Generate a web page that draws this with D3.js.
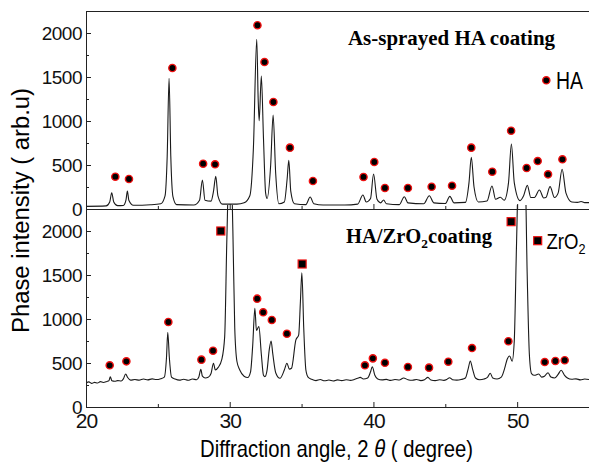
<!DOCTYPE html>
<html>
<head>
<meta charset="utf-8">
<script src="https://cdn.jsdelivr.net/npm/d3@7"></script>
<style>
  html, body { margin: 0; padding: 0; background: #fff; }
  svg { display: block; }
  .tick text { font-family: "Liberation Sans", Arial, sans-serif; fill: #111; }
  .axis path, .axis line { stroke: #222; }
</style>
</head>
<body>
<svg id="chart"></svg>
<script>
// ---- data ----
const xTicks = [20, 30, 40, 50];
const xMinorTicks = [25, 35, 45];
const yTicks = [0, 500, 1000, 1500, 2000];
const yMinorTicks = [250, 750, 1250, 1750];

// as-sprayed HA coating pattern: [2theta, intensity]
const asSprayedPattern = [
  [20.0, 30], [21.4, 35], [21.65, 80], [21.79, 185], [21.93, 80], [22.2, 38],
  [22.6, 40], [22.78, 100], [22.88, 205], [22.98, 100], [23.3, 42], [24.5, 48],
  [25.2, 60], [25.5, 150], [25.65, 600], [25.78, 1485], [25.9, 600], [26.05, 140],
  [26.3, 50], [27.5, 45], [27.9, 100], [28.1, 330], [28.28, 100], [28.7, 90],
  [28.87, 200], [29.03, 372], [29.18, 150], [29.5, 55], [30.5, 55], [31.0, 70],
  [31.4, 150], [31.65, 700], [31.88, 1928], [31.98, 1250], [32.05, 1003], [32.2, 1511],
  [32.35, 800], [32.5, 180], [32.6, 120], [32.85, 500], [33.02, 1068], [33.2, 400],
  [33.42, 60], [33.8, 80], [34.0, 350], [34.11, 553], [34.25, 200], [34.5, 60],
  [35.3, 50], [35.6, 136], [35.85, 60], [36.5, 45], [38.0, 45], [38.9, 55],
  [39.27, 159], [39.5, 80], [39.8, 120], [40.01, 398], [40.25, 110], [40.5, 70],
  [40.71, 102], [40.9, 60], [41.8, 50], [42.15, 140], [42.4, 70], [43.5, 60],
  [43.89, 151], [44.2, 70], [45.0, 62], [45.32, 144], [45.6, 70], [46.4, 75],
  [46.65, 300], [46.81, 587], [47.0, 250], [47.3, 80], [47.9, 90], [48.25, 261],
  [48.5, 110], [48.83, 133], [49.1, 100], [49.4, 300], [49.6, 739], [49.8, 300],
  [50.2, 95], [50.45, 150], [50.71, 269], [50.95, 130], [51.2, 130], [51.55, 216],
  [51.85, 125], [52.0, 130], [52.29, 254], [52.6, 130], [52.85, 180], [53.13, 451],
  [53.4, 180], [53.8, 80], [54.2, 75], [54.45, 85], [54.7, 72], [55.0, 72]
];

// HA/ZrO2 coating pattern: [2theta, intensity]
const haZrPattern = [
  [20.0, 270], [20.2, 285], [20.4, 268], [20.6, 280], [20.8, 272], [21.0, 288],
  [21.2, 278], [21.45, 290], [21.6, 300], [21.69, 344], [21.8, 298], [22.0, 292],
  [22.2, 300], [22.45, 296], [22.6, 320], [22.76, 375], [22.9, 335], [23.1, 305],
  [23.4, 312], [23.7, 305], [24.0, 318], [24.3, 308], [24.6, 320], [24.9, 312],
  [25.2, 322], [25.45, 340], [25.6, 560], [25.69, 849], [25.8, 560], [25.95, 340],
  [26.2, 318], [26.5, 305], [26.8, 316], [27.1, 304], [27.4, 318], [27.7, 310],
  [27.85, 340], [27.99, 428], [28.1, 350], [28.3, 330], [28.5, 337], [28.7, 380],
  [28.87, 497], [29.0, 420], [29.2, 450], [29.45, 540], [29.65, 800], [29.8, 1900],
  [29.95, 2700], [30.1, 2700], [30.22, 2000], [30.35, 900], [30.5, 520], [30.7, 420],
  [31.0, 350], [31.25, 335], [31.45, 400], [31.6, 700], [31.75, 1121], [31.86, 870],
  [32.03, 913], [32.2, 600], [32.35, 360], [32.45, 345], [32.6, 420], [32.75, 650],
  [32.88, 750], [33.0, 600], [33.2, 390], [33.5, 326], [33.8, 420], [33.98, 497],
  [34.15, 430], [34.3, 440], [34.6, 760], [34.8, 820], [34.92, 1200], [35.02, 1526],
  [35.15, 900], [35.3, 420], [35.45, 340], [35.7, 315], [36.0, 300], [36.3, 312],
  [36.6, 298], [36.9, 306], [37.2, 296], [37.5, 308], [37.8, 300], [38.1, 310],
  [38.4, 302], [38.7, 315], [38.95, 330], [39.08, 337], [39.3, 318], [39.6, 330],
  [39.8, 400], [39.92, 458], [40.1, 360], [40.3, 318], [40.6, 308], [40.9, 314],
  [41.2, 302], [41.5, 312], [41.8, 306], [42.1, 330], [42.4, 310], [42.7, 304],
  [43.0, 312], [43.3, 300], [43.55, 310], [43.79, 337], [44.0, 306], [44.3, 300],
  [44.6, 310], [44.9, 302], [45.1, 312], [45.3, 333], [45.5, 310], [45.8, 305],
  [46.1, 312], [46.4, 330], [46.6, 440], [46.74, 523], [46.9, 430], [47.1, 330],
  [47.4, 310], [47.7, 318], [47.95, 340], [48.13, 383], [48.3, 330], [48.6, 318],
  [48.9, 340], [49.15, 450], [49.3, 540], [49.48, 580], [49.65, 520], [49.8, 750],
  [49.95, 1800], [50.1, 2700], [50.35, 2800], [50.55, 2700], [50.7, 1500], [50.85, 600],
  [51.0, 380], [51.2, 360], [51.5, 375], [51.7, 340], [51.9, 350], [52.15, 390],
  [52.35, 340], [52.6, 330], [52.85, 370], [53.06, 417], [53.3, 360], [53.5, 330],
  [53.8, 315], [54.1, 320], [54.4, 308], [54.7, 318], [55.0, 312]
];

// peak markers: [2theta, intensity]
const asSprayedHA = [
  [22.04, 367], [22.99, 341], [26.01, 1602], [28.15, 515], [28.98, 508], [31.93, 2088],
  [32.42, 1670], [33.04, 1216], [34.19, 697], [35.79, 318], [39.31, 364], [40.06, 534],
  [40.80, 239], [42.40, 239], [44.05, 253], [45.47, 265], [46.81, 697], [48.27, 424],
  [49.58, 890], [50.66, 466], [51.43, 545], [52.15, 394], [53.15, 565]
];
const haZrHA = [
  [21.65, 474], [22.81, 519], [25.73, 966], [28.03, 538], [28.84, 640], [31.91, 1231],
  [32.33, 1076], [32.93, 989], [33.98, 833], [39.41, 474], [39.96, 553], [40.80, 503],
  [42.40, 455], [43.87, 447], [45.21, 515], [46.86, 670], [49.39, 747], [51.92, 511],
  [52.66, 523], [53.31, 531]
];
const haZrZrO2 = [[29.38, 2000], [35.04, 1625], [49.58, 2106]];

// ---- layout ----
const width = 589, height = 463;
const left = 86, right = 589;
const panels = [
  {top: 11, bottom: 209, pattern: asSprayedPattern, ha: asSprayedHA, zr: [], labels: false},
  {top: 209, bottom: 407, pattern: haZrPattern, ha: haZrHA, zr: haZrZrO2, labels: true}
];

const svg = d3.select('#chart')
    .attr('width', width)
    .attr('height', height);

const xScale = d3.scaleLinear().domain([20, 55]).range([left, right]);

const line = d3.line()
    .x(d => xScale(d[0]))
    .curve(d3.curveMonotoneX);

panels.forEach((p, i) => {
  const yScale = d3.scaleLinear().domain([0, 2250]).range([p.bottom, p.top]);

  // clip so the off-scale peaks are cut at the panel edge
  svg.append('clipPath').attr('id', `clip${i}`)
    .append('rect')
      .attr('x', left).attr('y', p.top - (i ? 4 : 0))
      .attr('width', right - left).attr('height', p.bottom - p.top + (i ? 4 : 0));

  svg.append('path')
      .datum(p.pattern)
      .attr('clip-path', `url(#clip${i})`)
      .attr('fill', 'none')
      .attr('stroke', '#1a1a1a')
      .attr('stroke-width', 1.1)
      .attr('d', line.y(d => yScale(d[1])));

  // axes, ticks pointing inwards
  svg.append('g').attr('class', 'axis')
      .attr('transform', `translate(${left},0)`)
      .call(d3.axisLeft(yScale).tickValues(yTicks).tickSize(-5).tickSizeOuter(0)
        .tickPadding(4).tickFormat(d3.format('d')))
      .call(g => g.selectAll('text').style('font-size', '19px').attr('letter-spacing', '-0.5px'));
  svg.append('g').attr('class', 'axis')
      .attr('transform', `translate(${left},0)`)
      .call(d3.axisLeft(yScale).tickValues(yMinorTicks).tickSize(-3).tickSizeOuter(0).tickFormat(''))
      .call(g => g.select('.domain').remove());

  const xAxis = d3.axisBottom(xScale).tickValues(xTicks).tickSize(-5).tickSizeOuter(0)
      .tickPadding(6).tickFormat(d3.format('d'));
  if (!p.labels) xAxis.tickFormat('');
  svg.append('g').attr('class', 'axis')
      .attr('transform', `translate(0,${p.bottom})`)
      .call(xAxis)
      .call(g => g.selectAll('text').style('font-size', '21px').attr('letter-spacing', '-1px'));
  svg.append('g').attr('class', 'axis')
      .attr('transform', `translate(0,${p.bottom})`)
      .call(d3.axisBottom(xScale).tickValues(xMinorTicks).tickSize(-3).tickSizeOuter(0).tickFormat(''))
      .call(g => g.select('.domain').remove());

  // phase markers
  svg.append('g').selectAll('circle')
      .data(p.ha)
    .join('circle')
      .attr('cx', d => xScale(d[0]))
      .attr('cy', d => yScale(d[1]))
      .attr('r', 3.6)
      .attr('fill', '#000')
      .attr('stroke', '#f01010')
      .attr('stroke-width', 1.4);

  svg.append('g').selectAll('rect')
      .data(p.zr)
    .join('rect')
      .attr('x', d => xScale(d[0]) - 4)
      .attr('y', d => yScale(d[1]) - 4)
      .attr('width', 8)
      .attr('height', 8)
      .attr('fill', '#000')
      .attr('stroke', '#f01010')
      .attr('stroke-width', 1.2);
});

// top frame line
svg.append('line')
    .attr('x1', left).attr('x2', right)
    .attr('y1', 11.5).attr('y2', 11.5)
    .attr('stroke', '#222');

// panel titles
const serif = '"Liberation Serif", "Times New Roman", serif';
svg.append('text')
    .attr('x', 348).attr('y', 45)
    .attr('font-family', serif).attr('font-weight', 'bold').attr('font-size', 20)
    .attr('textLength', 207).attr('lengthAdjust', 'spacingAndGlyphs')
    .text('As-sprayed HA coating');

const t2 = svg.append('text')
    .attr('x', 346).attr('y', 243)
    .attr('font-family', serif).attr('font-weight', 'bold').attr('font-size', 20)
    .attr('textLength', 146).attr('lengthAdjust', 'spacingAndGlyphs');
t2.append('tspan').text('HA/ZrO');
t2.append('tspan').attr('font-size', 13).attr('dy', 5).text('2');
t2.append('tspan').attr('dy', -5).text('coating');

// legends
const sans = '"Liberation Sans", Arial, sans-serif';
svg.append('circle')
    .attr('cx', 546.3).attr('cy', 80.3).attr('r', 3.6)
    .attr('fill', '#000').attr('stroke', '#f01010').attr('stroke-width', 1.4);
svg.append('text')
    .attr('x', 556).attr('y', 89)
    .attr('font-family', sans).attr('font-size', 23)
    .attr('textLength', 27).attr('lengthAdjust', 'spacingAndGlyphs')
    .text('HA');

svg.append('rect')
    .attr('x', 533.7).attr('y', 236.7).attr('width', 8).attr('height', 8)
    .attr('fill', '#000').attr('stroke', '#f01010').attr('stroke-width', 1.2);
const lz = svg.append('text')
    .attr('x', 546.5).attr('y', 249)
    .attr('font-family', sans).attr('font-size', 22)
    .attr('textLength', 39).attr('lengthAdjust', 'spacingAndGlyphs');
lz.append('tspan').text('ZrO');
lz.append('tspan').attr('font-size', 15).attr('dy', 5).text('2');

// axis titles
svg.append('text')
    .attr('transform', 'translate(29,210.5) rotate(-90)')
    .attr('text-anchor', 'middle')
    .attr('font-family', sans).attr('font-size', 23)
    .attr('textLength', 245).attr('lengthAdjust', 'spacingAndGlyphs')
    .text('Phase intensity ( arb.u)');

const xt = svg.append('text')
    .attr('x', 200).attr('y', 457)
    .attr('font-family', sans).attr('font-size', 24)
    .attr('textLength', 273).attr('lengthAdjust', 'spacingAndGlyphs');
xt.append('tspan').text('Diffraction angle, 2 ');
xt.append('tspan').attr('font-style', 'italic').text('θ');
xt.append('tspan').text(' (  degree)');
</script>
</body>
</html>
